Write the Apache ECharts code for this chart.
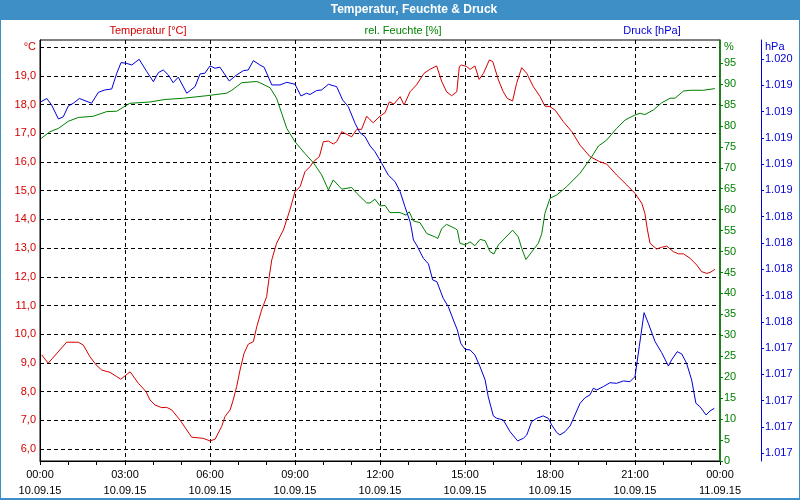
<!DOCTYPE html>
<html>
<head>
<meta charset="utf-8">
<script src="https://cdn.jsdelivr.net/npm/echarts@6/dist/echarts.min.js"></script>
<style>
html,body{margin:0;padding:0;background:#fff;}
#chart{width:800px;height:500px;}
</style>
</head>
<body>
<div id="chart"></div>
<script>
// ---- data (hours since 10.09.15 00:00) ----
var tempHours = [0.06,0.29,0.94,1.35,1.53,1.76,1.98,2.18,2.47,2.71,2.85,3.08,3.18,3.47,3.74,3.88,4.06,4.30,4.47,4.65,4.94,5.18,5.35,5.76,6.00,6.18,6.41,6.53,6.71,6.82,6.94,7.06,7.20,7.35,7.53,7.65,7.82,8.00,8.09,8.18,8.35,8.59,8.82,9.00,9.18,9.35,9.53,9.65,9.86,10.00,10.18,10.35,10.47,10.65,10.76,11.00,11.18,11.35,11.53,11.65,11.76,12.00,12.18,12.33,12.49,12.71,12.85,13.06,13.29,13.55,13.76,14.00,14.06,14.18,14.35,14.53,14.71,14.80,14.88,15.06,15.18,15.35,15.50,15.65,15.86,15.98,16.18,16.35,16.49,16.68,16.82,17.00,17.18,17.41,17.65,17.82,18.00,18.18,18.47,18.77,19.06,19.41,19.76,20.00,20.35,20.71,21.00,21.24,21.35,21.44,21.53,21.76,21.94,22.12,22.35,22.53,22.71,22.94,23.18,23.35,23.53,23.65,23.82];
var tempValues = [9.28,8.99,9.72,9.72,9.62,9.22,8.93,8.75,8.67,8.52,8.43,8.61,8.69,8.29,8.00,7.71,7.53,7.44,7.45,7.36,7.01,6.66,6.41,6.37,6.28,6.34,6.78,7.13,7.36,7.71,8.17,8.75,9.33,9.65,9.74,10.26,10.84,11.31,12.00,12.59,13.17,13.63,14.33,14.97,15.14,15.66,15.84,16.01,16.19,16.71,16.73,16.63,16.71,17.06,17.00,16.88,17.14,17.14,17.60,17.47,17.37,17.60,17.72,18.10,18.02,18.28,17.99,18.45,18.69,19.09,19.23,19.35,19.33,18.80,18.45,18.31,18.45,19.33,19.38,19.33,19.23,19.35,18.88,19.09,19.56,19.50,18.86,18.45,18.22,18.13,18.74,19.29,19.09,18.63,18.28,17.95,17.93,17.81,17.41,17.06,16.59,16.19,16.01,15.93,15.55,15.20,14.91,14.56,14.21,13.63,13.17,12.97,13.03,13.07,12.88,12.80,12.80,12.65,12.41,12.18,12.12,12.15,12.26];

var humHours = [0.04,0.35,0.65,1.00,1.35,1.88,2.35,2.71,3.00,3.18,3.88,4.41,5.06,5.88,6.59,6.77,7.12,7.65,7.76,8.12,8.35,8.53,8.71,9.00,9.35,9.65,9.94,10.18,10.35,10.65,11.00,11.18,11.53,11.65,11.82,12.00,12.18,12.35,12.71,12.92,13.03,13.18,13.41,13.65,13.71,13.94,14.04,14.18,14.35,14.65,14.73,14.82,15.00,15.18,15.35,15.53,15.71,15.88,16.02,16.18,16.68,16.88,17.00,17.15,17.41,17.59,17.71,17.82,18.00,18.24,18.59,19.06,19.47,19.71,20.00,20.35,20.65,21.00,21.18,21.35,21.65,21.94,22.24,22.41,22.71,22.94,23.41,23.82];
var humValues = [77.0,78.6,79.4,81.1,82.0,82.3,83.4,83.5,84.7,85.4,85.7,86.3,86.6,87.2,87.8,88.5,90.3,90.6,90.3,89.1,86.6,83.0,79.4,76.2,73.4,71.2,68.3,64.7,67.1,64.9,65.3,63.9,61.6,61.6,62.5,60.9,61.0,59.3,59.3,58.7,59.5,57.3,56.9,54.3,53.9,53.5,53.1,55.5,56.5,55.5,55.1,52.0,51.6,52.3,51.4,52.9,52.6,50.0,49.4,51.6,55.1,53.5,50.8,48.1,50.4,52.0,54.3,59.1,62.7,63.5,65.5,68.7,72.6,75.2,76.6,79.4,81.4,82.6,83.0,82.7,83.8,85.5,86.6,86.6,88.3,88.5,88.5,88.9];

var pressHours = [0.04,0.24,0.41,0.65,0.82,1.00,1.18,1.39,1.59,1.82,2.06,2.29,2.53,2.71,2.86,3.04,3.24,3.50,3.77,4.00,4.18,4.35,4.53,4.70,4.88,5.18,5.47,5.65,5.82,6.00,6.18,6.35,6.68,6.94,7.18,7.35,7.53,7.76,7.91,8.18,8.47,8.71,9.00,9.21,9.41,9.53,9.76,9.94,10.18,10.47,10.68,10.88,11.12,11.29,11.47,11.65,11.82,12.06,12.29,12.53,12.71,12.88,13.06,13.12,13.18,13.29,13.53,13.71,13.86,14.01,14.23,14.41,14.59,14.73,14.85,15.00,15.18,15.35,15.53,15.71,15.82,16.00,16.12,16.35,16.59,16.86,17.06,17.18,17.35,17.53,17.76,17.94,18.06,18.24,18.35,18.53,18.71,18.88,19.06,19.24,19.41,19.53,19.65,19.88,20.12,20.35,20.59,20.82,21.00,21.15,21.32,21.47,21.71,21.94,22.18,22.29,22.49,22.65,22.82,23.00,23.15,23.29,23.51,23.65,23.80];
var pressValues = [1019.276,1019.300,1019.250,1019.144,1019.160,1019.243,1019.264,1019.300,1019.283,1019.264,1019.347,1019.365,1019.372,1019.492,1019.573,1019.568,1019.555,1019.598,1019.504,1019.428,1019.497,1019.517,1019.479,1019.420,1019.462,1019.340,1019.390,1019.487,1019.492,1019.548,1019.530,1019.538,1019.433,1019.479,1019.512,1019.517,1019.588,1019.555,1019.538,1019.403,1019.403,1019.423,1019.408,1019.319,1019.340,1019.330,1019.360,1019.365,1019.408,1019.390,1019.289,1019.238,1019.111,1019.040,1019.010,1018.939,1018.896,1018.807,1018.718,1018.667,1018.591,1018.477,1018.363,1018.299,1018.223,1018.185,1018.084,1018.041,1017.919,1017.905,1017.780,1017.716,1017.614,1017.538,1017.437,1017.391,1017.386,1017.348,1017.259,1017.158,1017.031,1016.884,1016.866,1016.853,1016.764,1016.694,1016.714,1016.739,1016.840,1016.866,1016.884,1016.866,1016.815,1016.757,1016.739,1016.764,1016.808,1016.891,1016.980,1017.023,1017.044,1017.095,1017.082,1017.107,1017.137,1017.132,1017.150,1017.145,1017.183,1017.411,1017.670,1017.589,1017.449,1017.366,1017.264,1017.310,1017.373,1017.356,1017.285,1017.158,1016.980,1016.955,1016.891,1016.922,1016.942];

// ---- axis ticks / labels ----
var timeTicks = [0,3,6,9,12,15,18,21,24];
var timeLabels = ['00:00','03:00','06:00','09:00','12:00','15:00','18:00','21:00','00:00'];
var dateLabels = ['10.09.15','10.09.15','10.09.15','10.09.15','10.09.15','10.09.15','10.09.15','10.09.15','11.09.15'];
var tempTicks = [6,7,8,9,10,11,12,13,14,15,16,17,18,19,20];
var humTicks = [0,5,10,15,20,25,30,35,40,45,50,55,60,65,70,75,80,85,90,95];
var pressTicks = [1016.6,1016.8,1017.0,1017.2,1017.4,1017.6,1017.8,1018.0,1018.2,1018.4,1018.6,1018.8,1019.0,1019.2,1019.4,1019.6];

var RED = '#d40000', GREEN = '#008000', BLUE = '#0000d8';
var FONT = 'Liberation Sans, Arial, sans-serif';

function pairs(h, v){ return h.map(function(x,i){ return [x, v[i]]; }); }

var chart = echarts.init(document.getElementById('chart'), null, {renderer:'canvas'});
chart.setOption({
  animation: false,
  backgroundColor: '#ffffff',
  grid: {left: 40, top: 40, width: 680, height: 421, show: true, borderColor: '#000', borderWidth: 1, backgroundColor: '#ffffff', containLabel: false},
  xAxis: {
    type: 'value', min: 0, max: 24, interval: 3,
    axisLine: {show: true, lineStyle: {color: '#000', width: 1}},
    axisTick: {show: true, length: 4, lineStyle: {color: '#000'}},
    minorTick: {show: true, splitNumber: 3, length: 4, lineStyle: {color: '#000'}},
    splitLine: {show: true, showMinLine: false, showMaxLine: false, lineStyle: {color: '#000', type: [4,3], width: 1}},
    axisLabel: {
      show: true, margin: 6, color: '#000', fontFamily: FONT, fontSize: 11, lineHeight: 16,
      showMinLabel: true, showMaxLabel: true, hideOverlap: false,
      formatter: function(v){ var i = timeTicks.indexOf(Math.round(v)); return i < 0 ? '' : timeLabels[i] + '\n' + dateLabels[i]; }
    }
  },
  yAxis: [
    {
      type: 'value', position: 'left', min: 5.58, max: 20.254,
      axisLine: {show: true, lineStyle: {color: '#000', width: 1}},
      axisTick: {show: false, customValues: tempTicks},
      splitLine: {show: true, lineStyle: {color: '#000', type: [4,3], width: 1}},
      axisLabel: {
        customValues: tempTicks, margin: 4, color: RED, fontFamily: FONT, fontSize: 11,
        formatter: function(v){ return Math.round(v) === 20 ? '°C' : v.toFixed(1).replace('.', ','); }
      }
    },
    {
      type: 'value', position: 'right', offset: 0, min: 0, max: 100.5, z: 5,
      axisLine: {show: true, onZero: false, lineStyle: {color: GREEN, width: 1.5}},
      axisTick: {show: true, inside: false, length: 3, customValues: humTicks, lineStyle: {color: GREEN}},
      splitLine: {show: false},
      axisLabel: {
        customValues: humTicks.concat([98.8]), margin: 4, color: GREEN, fontFamily: FONT, fontSize: 11,
        formatter: function(v){ return v > 96 ? '%' : String(Math.round(v)); }
      }
    },
    {
      type: 'value', position: 'right', offset: 41, min: 1016.541, max: 1019.745, z: 5,
      axisLine: {show: true, onZero: false, lineStyle: {color: BLUE, width: 1}},
      axisTick: {show: true, inside: false, length: 3, customValues: pressTicks, lineStyle: {color: BLUE}},
      splitLine: {show: false},
      axisLabel: {
        customValues: pressTicks.concat([1019.69]), margin: 4, color: BLUE, fontFamily: FONT, fontSize: 11,
        formatter: function(v){ if (v > 1019.65) return 'hPa'; var r = Math.round(v); return String(r).replace(/^(\d)(\d{3})$/, '$1.$2'); }
      }
    }
  ],
  series: [
    {type: 'line', name: 'Temperatur', yAxisIndex: 0, data: pairs(tempHours, tempValues), showSymbol: false, lineStyle: {color: RED, width: 1}, itemStyle: {color: RED}, z: 3},
    {type: 'line', name: 'Feuchte', yAxisIndex: 1, data: pairs(humHours, humValues), showSymbol: false, lineStyle: {color: GREEN, width: 1}, itemStyle: {color: GREEN}, z: 3},
    {type: 'line', name: 'Druck', yAxisIndex: 2, data: pairs(pressHours, pressValues), showSymbol: false, lineStyle: {color: BLUE, width: 1}, itemStyle: {color: BLUE}, z: 3}
  ],
  graphic: [
    {type: 'rect', left: 0, top: 0, z: 100, shape: {x: 0, y: 0, width: 800, height: 20}, style: {fill: '#3d8fc6'}},
    {type: 'text', x: 414, y: 10, z: 101, style: {text: 'Temperatur, Feuchte & Druck', fill: '#ffffff', font: 'bold 12px ' + FONT, textAlign: 'center', textVerticalAlign: 'middle'}},
    {type: 'rect', z: 100, shape: {x: 0.5, y: 0.5, width: 799, height: 498.5}, style: {fill: 'none', stroke: '#3d8fc6', lineWidth: 1}},
    {type: 'rect', z: 100, shape: {x: 0, y: 498, width: 800, height: 2}, style: {fill: '#3d8fc6'}},
    {type: 'text', x: 148, y: 31, z: 101, style: {text: 'Temperatur [°C]', fill: RED, font: '11px ' + FONT, textAlign: 'center', textVerticalAlign: 'middle'}},
    {type: 'text', x: 403, y: 31, z: 101, style: {text: 'rel. Feuchte [%]', fill: GREEN, font: '11px ' + FONT, textAlign: 'center', textVerticalAlign: 'middle'}},
    {type: 'text', x: 652, y: 31, z: 101, style: {text: 'Druck [hPa]', fill: BLUE, font: '11px ' + FONT, textAlign: 'center', textVerticalAlign: 'middle'}}
  ]
});
</script>
</body>
</html>
